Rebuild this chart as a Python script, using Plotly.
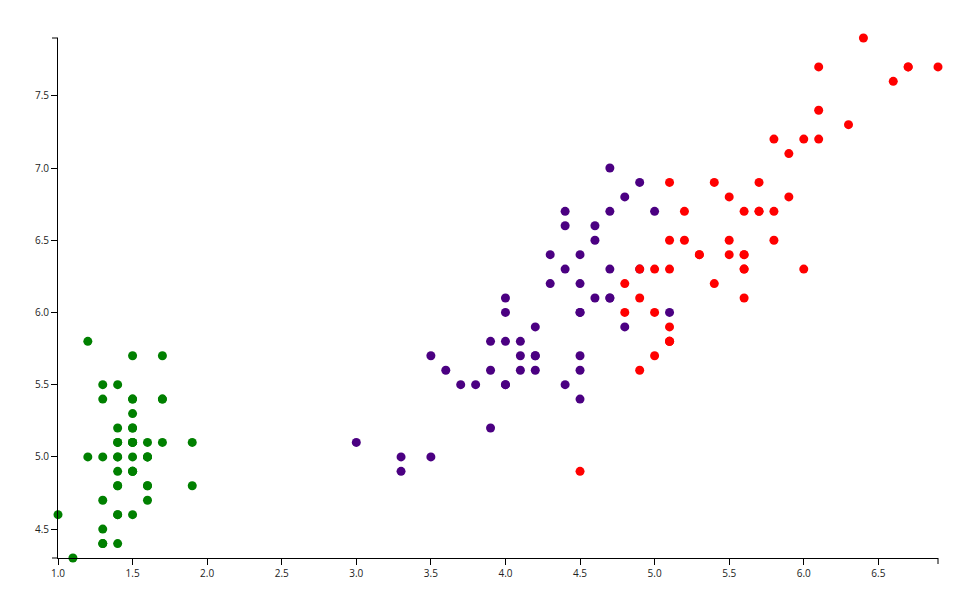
import plotly.graph_objects as go

# Iris: petal length (x) vs sepal length (y)
setosa_petal = [1.4,1.4,1.3,1.5,1.4,1.7,1.4,1.5,1.4,1.5,1.5,1.6,1.4,1.1,1.2,1.5,1.3,1.4,1.7,1.5,
                1.7,1.5,1.0,1.7,1.9,1.6,1.6,1.5,1.4,1.6,1.6,1.5,1.5,1.4,1.5,1.2,1.3,1.5,1.3,1.5,
                1.3,1.3,1.3,1.6,1.9,1.4,1.6,1.4,1.5,1.4]
setosa_sepal = [5.1,4.9,4.7,4.6,5.0,5.4,4.6,5.0,4.4,4.9,5.4,4.8,4.8,4.3,5.8,5.7,5.4,5.1,5.7,5.1,
                5.4,5.1,4.6,5.1,4.8,5.0,5.0,5.2,5.2,4.7,4.8,5.4,5.2,5.5,4.9,5.0,5.5,4.9,4.4,5.1,
                5.0,4.5,4.4,5.0,5.1,4.8,5.1,4.6,5.3,5.0]
versicolor_petal = [4.7,4.5,4.9,4.0,4.6,4.5,4.7,3.3,4.6,3.9,3.5,4.2,4.0,4.7,3.6,4.4,4.5,4.1,4.5,3.9,
                    4.8,4.0,4.9,4.7,4.3,4.4,4.8,5.0,4.5,3.5,3.8,3.7,3.9,5.1,4.5,4.5,4.7,4.4,4.1,4.0,
                    4.4,4.6,4.0,3.3,4.2,4.2,4.2,4.3,3.0,4.1]
versicolor_sepal = [7.0,6.4,6.9,5.5,6.5,5.7,6.3,4.9,6.6,5.2,5.0,5.9,6.0,6.1,5.6,6.7,5.6,5.8,6.2,5.6,
                    5.9,6.1,6.3,6.1,6.4,6.6,6.8,6.7,6.0,5.7,5.5,5.5,5.8,6.0,5.4,6.0,6.7,6.3,5.6,5.5,
                    5.5,6.1,5.8,5.0,5.6,5.7,5.7,6.2,5.1,5.7]
virginica_petal = [6.0,5.1,5.9,5.6,5.8,6.6,4.5,6.3,5.8,6.1,5.1,5.3,5.5,5.0,5.1,5.3,5.5,6.7,6.9,5.0,
                   5.7,4.9,6.7,4.9,5.7,6.0,4.8,4.9,5.6,5.8,6.1,6.4,5.6,5.1,5.6,6.1,5.6,5.5,4.8,5.4,
                   5.6,5.1,5.1,5.9,5.7,5.2,5.0,5.2,5.4,5.1]
virginica_sepal = [6.3,5.8,7.1,6.3,6.5,7.6,4.9,7.3,6.7,7.2,6.5,6.4,6.8,5.7,5.8,6.4,6.5,7.7,7.7,6.0,
                   6.9,5.6,7.7,6.3,6.7,7.2,6.2,6.1,6.4,7.2,7.4,7.9,6.4,6.3,6.1,7.7,6.3,6.4,6.0,6.9,
                   6.7,6.9,5.8,6.8,6.7,6.7,6.3,6.5,6.2,5.9]

series = [
    ("setosa", setosa_petal, setosa_sepal, "#008000"),
    ("versicolor", versicolor_petal, versicolor_sepal, "#4B0082"),
    ("virginica", virginica_petal, virginica_sepal, "#FF0000"),
]

all_x = setosa_petal + versicolor_petal + virginica_petal
all_y = setosa_sepal + versicolor_sepal + virginica_sepal
xmin, xmax = min(all_x), max(all_x)
ymin, ymax = min(all_y), max(all_y)

fig = go.Figure()
for name, xs, ys, col in series:
    fig.add_trace(go.Scatter(x=xs, y=ys, mode="markers", name=name,
                             marker=dict(color=col, size=9, line=dict(width=0)),
                             cliponaxis=False))

axis_common = dict(showgrid=False, zeroline=False, showline=True, linecolor="black",
                   linewidth=1, ticks="outside", ticklen=6, tickcolor="black", tickwidth=1,
                   tickfont=dict(family="Open Sans, sans-serif", size=10, color="#222"),
                   tickformat=".1f", dtick=0.5)
fig.update_xaxes(range=[xmin, xmax], tick0=1.0, **axis_common)
fig.update_yaxes(range=[ymin, ymax], tick0=4.5, **axis_common)

lw = dict(color="black", width=1)
# outer end ticks (d3 style)
fig.add_shape(type="line", xref="paper", yref="paper", xsizemode="pixel", xanchor=0,
              x0=-6, x1=0, y0=1, y1=1, line=lw)
fig.add_shape(type="line", xref="paper", yref="paper", xsizemode="pixel", xanchor=0,
              x0=-6, x1=0, y0=0, y1=0, line=lw)
fig.add_shape(type="line", xref="paper", yref="paper", ysizemode="pixel", yanchor=0,
              y0=0, y1=-6, x0=1, x1=1, line=lw)

fig.update_layout(width=944, height=584, showlegend=False,
                  plot_bgcolor="white", paper_bgcolor="white",
                  margin=dict(l=50, r=14, t=30, b=34))
fig.write_html("out.html")
